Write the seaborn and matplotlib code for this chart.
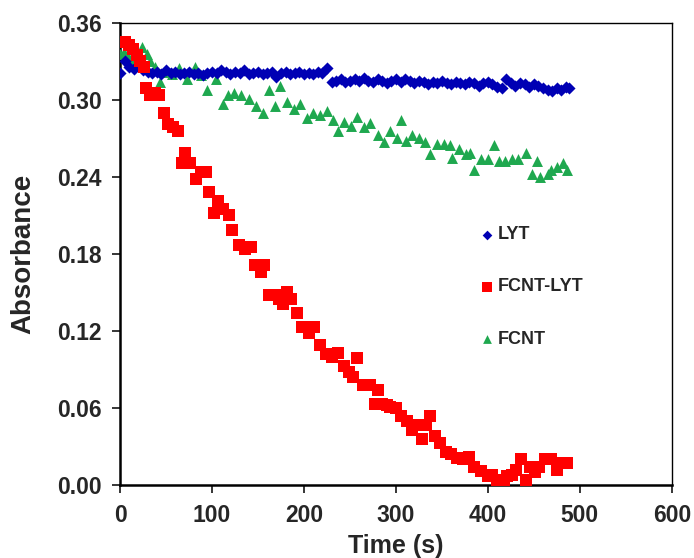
import numpy as np
import pandas as pd
import seaborn as sns
import matplotlib.pyplot as plt

# LYT (blue diamonds)
lyt_time = [0, 5, 10, 15, 20, 25, 30, 35, 40, 45, 50, 55, 60, 65, 70, 75, 80, 85, 90, 95,
            100, 105, 110, 115, 120, 125, 130, 135, 140, 145, 150, 155, 160, 165, 170, 175,
            180, 185, 190, 195, 200, 205, 210, 215, 220, 225, 230, 235, 240, 245, 250, 255,
            260, 265, 270, 275, 280, 285, 290, 295, 300, 305, 310, 315, 320, 325, 330, 335,
            340, 345, 350, 355, 360, 365, 370, 375, 380, 385, 390, 395, 400, 405, 410, 415,
            420, 425, 430, 435, 440, 445, 450, 455, 460, 465, 470, 475, 480, 485, 488]
lyt_abs = [0.321, 0.330, 0.326, 0.324, 0.327, 0.323, 0.322, 0.321, 0.322, 0.320,
           0.323, 0.321, 0.322, 0.320, 0.321, 0.322, 0.320, 0.321, 0.319, 0.321,
           0.322, 0.321, 0.323, 0.322, 0.320, 0.322, 0.321, 0.323, 0.320, 0.321,
           0.322, 0.320, 0.321, 0.322, 0.318, 0.321, 0.322, 0.320, 0.321, 0.322,
           0.320, 0.321, 0.320, 0.322, 0.321, 0.325, 0.314, 0.315, 0.316, 0.314,
           0.315, 0.316, 0.315, 0.317, 0.315, 0.314, 0.316, 0.315, 0.313, 0.315,
           0.316, 0.314, 0.316, 0.315, 0.313, 0.315, 0.314, 0.312, 0.314, 0.313,
           0.315, 0.313, 0.312, 0.314, 0.313, 0.312, 0.314, 0.313, 0.311, 0.313,
           0.314, 0.312, 0.310, 0.309, 0.316, 0.313, 0.311, 0.313, 0.312, 0.310,
           0.312, 0.311, 0.309, 0.308, 0.307, 0.309, 0.308, 0.310, 0.309]

# FCNT-LYT (red squares)
fl_time = [0, 5, 10, 14, 18, 22, 26, 28, 33, 38, 42, 48, 52, 58, 63, 67, 71, 76, 83, 88,
           93, 97, 102, 107, 112, 118, 122, 129, 136, 142, 147, 153, 157, 162, 168, 173,
           177, 181, 186, 192, 198, 205, 211, 217, 224, 230, 237, 243, 249, 253, 258, 264,
           272, 277, 281, 285, 290, 294, 300, 306, 312, 318, 323, 328, 333, 337, 342, 348,
           354, 360, 366, 373, 379, 385, 393, 400, 405, 410, 417, 421, 426, 431, 436, 441,
           446, 451, 456, 462, 469, 475, 482, 486]
fl_abs = [0.345, 0.345, 0.343, 0.340, 0.335, 0.330, 0.326, 0.309, 0.304, 0.305,
          0.304, 0.290, 0.281, 0.279, 0.276, 0.251, 0.259, 0.251, 0.238, 0.244,
          0.244, 0.228, 0.212, 0.221, 0.215, 0.210, 0.199, 0.187, 0.184, 0.185,
          0.171, 0.166, 0.171, 0.148, 0.148, 0.145, 0.141, 0.150, 0.145, 0.134,
          0.123, 0.118, 0.123, 0.109, 0.102, 0.100, 0.103, 0.093, 0.088, 0.084,
          0.099, 0.078, 0.078, 0.063, 0.074, 0.063, 0.062, 0.061, 0.060, 0.054,
          0.050, 0.043, 0.047, 0.036, 0.047, 0.054, 0.038, 0.033, 0.026, 0.024,
          0.021, 0.020, 0.022, 0.014, 0.011, 0.007, 0.008, 0.004, 0.001, 0.007,
          0.008, 0.012, 0.020, 0.004, 0.014, 0.010, 0.014, 0.020, 0.020, 0.012,
          0.017, 0.017]

# FCNT (green triangles)
fcnt_time = [0, 4, 9, 13, 19, 24, 29, 33, 38, 43, 50, 57, 64, 73, 81, 88, 95, 104, 112, 117,
             124, 131, 140, 148, 155, 162, 169, 174, 181, 189, 196, 203, 210, 217, 225, 232,
             237, 244, 251, 258, 265, 272, 280, 287, 294, 301, 306, 311, 318, 325, 332, 337,
             345, 352, 359, 361, 369, 376, 381, 385, 393, 400, 407, 412, 419, 426, 433, 441,
             448, 453, 457, 465, 469, 475, 482, 486]
fcnt_abs = [0.336, 0.337, 0.334, 0.330, 0.333, 0.341, 0.336, 0.330, 0.326, 0.314,
            0.322, 0.320, 0.325, 0.316, 0.326, 0.319, 0.308, 0.316, 0.297, 0.304,
            0.305, 0.304, 0.301, 0.295, 0.290, 0.308, 0.295, 0.311, 0.298, 0.293,
            0.297, 0.286, 0.290, 0.288, 0.291, 0.284, 0.276, 0.283, 0.280, 0.287,
            0.279, 0.282, 0.273, 0.267, 0.276, 0.270, 0.284, 0.268, 0.273, 0.270,
            0.267, 0.258, 0.266, 0.266, 0.265, 0.255, 0.262, 0.258, 0.259, 0.245,
            0.254, 0.254, 0.265, 0.252, 0.252, 0.254, 0.254, 0.259, 0.242, 0.252,
            0.240, 0.242, 0.245, 0.248, 0.251, 0.245]

x_ticks = [0, 100, 200, 300, 400, 500, 600]
y_ticks = [0.00, 0.06, 0.12, 0.18, 0.24, 0.30, 0.36]

df = pd.concat([
    pd.DataFrame({'time': lyt_time, 'abs': lyt_abs, 'sample': 'LYT'}),
    pd.DataFrame({'time': fl_time, 'abs': fl_abs, 'sample': 'FCNT-LYT'}),
    pd.DataFrame({'time': fcnt_time, 'abs': fcnt_abs, 'sample': 'FCNT'}),
])

sns.set_style('white')
plt.rcParams['font.family'] = ['Liberation Sans', 'DejaVu Sans']
plt.rcParams['font.weight'] = 'bold'

fig = plt.figure(figsize=(6.94, 5.58), dpi=100)
ax = fig.add_axes([0.173, 0.131, 0.795, 0.828])

palette = {'LYT': '#0000b4', 'FCNT-LYT': '#ff0000', 'FCNT': '#1fa84f'}
markers = {'LYT': 'D', 'FCNT-LYT': 's', 'FCNT': '^'}
sizes = {'LYT': 38, 'FCNT-LYT': 68, 'FCNT': 62}

# green first so red and blue sit on top like the original
for name in ['FCNT', 'LYT', 'FCNT-LYT']:
    sub = df[df['sample'] == name]
    sns.scatterplot(data=sub, x='time', y='abs', color=palette[name], marker=markers[name],
                    s=sizes[name], linewidth=0, ax=ax, label=name, zorder=3)

ax.set_xlim(0, 600)
ax.set_ylim(0, 0.36)
ax.set_xticks(x_ticks)
ax.set_yticks(y_ticks)
ax.set_yticklabels(['%.2f' % v for v in y_ticks])
ax.tick_params(axis='both', direction='out', length=6, width=1.3, labelsize=16.5,
               bottom=True, left=True, top=False, right=False)
ax.tick_params(axis='x', pad=8)
ax.tick_params(axis='y', pad=7)
ax.spines['left'].set_linewidth(1.8)
ax.spines['bottom'].set_linewidth(1.8)
ax.spines['top'].set_linewidth(1.0)
ax.spines['right'].set_linewidth(1.0)
for s in ax.spines.values():
    s.set_color('black')
ax.set_xlabel('Time (s)', fontsize=18, fontweight='bold', labelpad=5)
ax.set_ylabel('Absorbance', fontsize=20, fontweight='bold', labelpad=15)

handles, labels = ax.get_legend_handles_labels()
order = [labels.index(n) for n in ['LYT', 'FCNT-LYT', 'FCNT']]
ax.legend([handles[i] for i in order], [labels[i] for i in order],
          loc='upper left', bbox_to_anchor=(0.62, 0.595), frameon=False,
          fontsize=13, labelspacing=1.95, handletextpad=0.05, handlelength=1.0,
          markerscale=0.8)

plt.savefig('out.png', dpi=100)
